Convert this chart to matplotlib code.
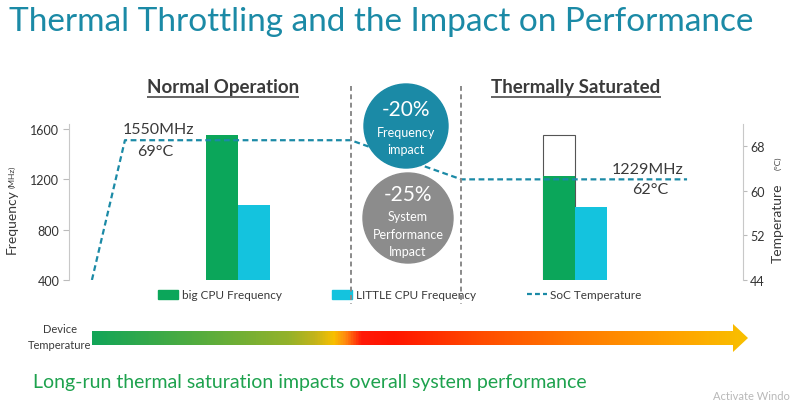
# Thermal throttling chart: frequency bars + SoC temperature line
import numpy as np
import matplotlib.pyplot as plt
from matplotlib.colors import LinearSegmentedColormap
from matplotlib.patches import Circle, Polygon, Patch
from matplotlib.lines import Line2D

plt.rcParams['font.family'] = ['Lato', 'DejaVu Sans']

# data
phases = ["Normal Operation", "Thermally Saturated"]
big_freq = [1550, 1229]        # big CPU frequency (MHz)
little_freq = [1000, 980]      # LITTLE CPU frequency (MHz)
big_ref = 1550                 # outline: unthrottled big CPU level
soc_time = [3.4, 8.3, 41.8, 58.2, 91.7]
soc_temp = [44, 69, 69, 62, 62]
freq_ticks = [400, 800, 1200, 1600]
temp_ticks = [44, 52, 60, 68]
freq_impact = "-20%"
perf_impact = "-25%"

teal = '#1b8aa6'
green = '#0ba65a'
cyan = '#14c3de'
gray_txt = '#3a3a3a'

fig = plt.figure(figsize=(8, 4.06), dpi=100)
fig.patch.set_facecolor('white')

# main axes (pixel layout: x 69..743, y 125..281)
ax = fig.add_axes([69 / 800, 1 - 281 / 406, 674 / 800, 156 / 406])
ax.set_xlim(0, 100)
ax.set_ylim(400, 1640)
ax.patch.set_visible(False)

centers = [25.07, 75.07]
w = 4.75
ax.bar(centers[1] - w / 2, big_ref, width=w, fill=False, edgecolor='#555555', linewidth=0.8, zorder=1)
ax.bar([c - w / 2 for c in centers], big_freq, width=w, color=green, zorder=2)
ax.bar([c + w / 2 for c in centers], little_freq, width=w, color=cyan, zorder=2)

ax.set_xticks([])
ax.set_yticks(freq_ticks)
ax.tick_params(axis='y', length=4, width=0.8, color='#bbbbbb', labelsize=9, labelcolor='#333333', pad=3)
for s in ['top', 'bottom', 'right']:
    ax.spines[s].set_visible(False)
ax.spines['left'].set_color('#c8c8c8')

ax2 = ax.twinx()
ax2.set_ylim(44, 71.9)
ax2.plot(soc_time, soc_temp, color=teal, linewidth=1.6, dashes=(2.6, 1.6), zorder=3)
ax2.set_yticks(temp_ticks)
ax2.tick_params(axis='y', length=3, width=0.8, color='#bbbbbb', labelsize=9, labelcolor='#333333', pad=2)
for s in ['top', 'bottom', 'left']:
    ax2.spines[s].set_visible(False)
ax2.spines['right'].set_color('#c8c8c8')

# overlay in pixel coordinates
ov = fig.add_axes([0, 0, 1, 1], zorder=10)
ov.set_xlim(0, 800)
ov.set_ylim(406, 0)
ov.axis('off')
ov.patch.set_visible(False)

ov.text(9, 22, "Thermal Throttling and the Impact on Performance", fontsize=24,
        color=teal, va='center', ha='left')

# section headers with underline
fig.canvas.draw()
r = fig.canvas.get_renderer()
inv = ov.transData.inverted()
for name, cx in zip(phases, [223, 576]):
    t = ov.text(cx, 87, name, fontsize=13.5, fontweight='bold', color=gray_txt, ha='center', va='center')
    bb = t.get_window_extent(renderer=r)
    (x0, _), (x1, _) = inv.transform([[bb.x0, bb.y0], [bb.x1, bb.y0]])
    ov.plot([x0, x1], [98, 98], color=gray_txt, lw=1.1, solid_capstyle='butt')

# dividers
for x in [351, 461]:
    ov.plot([x, x], [87, 305], color='#8a8a8a', lw=1.4, dashes=(2.5, 1.8))

# impact circles
ov.add_patch(Circle((406, 127), 42, color=teal, zorder=5))
ov.add_patch(Circle((408, 219), 45, color='#8c8c8c', zorder=5))
ov.text(406, 110, freq_impact, fontsize=15, color='white', ha='center', va='center', zorder=6)
ov.text(406, 133, "Frequency", fontsize=9, color='white', ha='center', va='center', zorder=6)
ov.text(406, 150, "impact", fontsize=9, color='white', ha='center', va='center', zorder=6)
ov.text(408, 195, perf_impact, fontsize=15, color='white', ha='center', va='center', zorder=6)
ov.text(408, 217, "System", fontsize=9, color='white', ha='center', va='center', zorder=6)
ov.text(408, 235, "Performance", fontsize=9, color='white', ha='center', va='center', zorder=6)
ov.text(408, 252, "Impact", fontsize=9, color='white', ha='center', va='center', zorder=6)

# value labels
ov.text(123, 130, f"{big_freq[0]}MHz", fontsize=11.5, color=gray_txt, va='center')
ov.text(137, 152, f"{soc_temp[1]}°C", fontsize=11.5, color=gray_txt, va='center')
ov.text(612, 170, f"{big_freq[1]}MHz", fontsize=11.5, color=gray_txt, va='center')
ov.text(632, 190, f"{soc_temp[-1]}°C", fontsize=11.5, color=gray_txt, va='center')

# axis titles
ov.text(12, 222, "Frequency", fontsize=10, rotation=90, color=gray_txt, ha='center', va='center')
ov.text(12, 177, "(MHz)", fontsize=6, rotation=90, color=gray_txt, ha='center', va='center')
ov.text(778, 223, "Temperature", fontsize=10, rotation=90, color=gray_txt, ha='center', va='center')
ov.text(778, 163, "(°C)", fontsize=6, rotation=90, color=gray_txt, ha='center', va='center')

# legend
handles = [Patch(color=green), Patch(color=cyan),
           Line2D([], [], color=teal, lw=1.6, dashes=(2.2, 1.4))]
labels = ["big CPU Frequency", "LITTLE CPU Frequency", "SoC Temperature"]
fig.legend(handles, labels, ncol=3, loc='center left', bbox_to_anchor=(158 / 800, 1 - 296 / 406),
           frameon=False, fontsize=8.5, handlelength=1.7, handleheight=0.7, handletextpad=0.3,
           columnspacing=4.3, borderpad=0, borderaxespad=0, labelcolor=gray_txt)

# device temperature gradient arrow
stops = [(0.0, '#12a558'), (0.15, '#4fac40'), (0.30, '#94b22a'), (0.34, '#c4b41a'),
         (0.368, '#f8c000'), (0.386, '#ff8a10'), (0.41, '#ff1a08'), (0.46, '#ff1500'),
         (0.59, '#ff4a00'), (0.74, '#ff7a00'), (0.90, '#ffa500'), (1.0, '#f8c000')]
cmap = LinearSegmentedColormap.from_list('heat', stops)
arrow = Polygon([(92, 332), (733, 332), (733, 325), (748, 339), (733, 353), (733, 346), (92, 346)],
                closed=True, facecolor='none', edgecolor='none')
ov.add_patch(arrow)
im = ov.imshow(np.linspace(0, 1, 512)[None, :], cmap=cmap, aspect='auto',
               extent=[92, 748, 353, 325], interpolation='bilinear')
im.set_clip_path(arrow)
ov.set_xlim(0, 800)
ov.set_ylim(406, 0)

ov.text(60, 330, "Device", fontsize=8, color=gray_txt, ha='center', va='center')
ov.text(60, 346, "Temperature", fontsize=8, color=gray_txt, ha='center', va='center')

ov.text(33, 383, "Long-run thermal saturation impacts overall system performance", fontsize=14,
        color='#1ea24e', va='center')
ov.text(713, 397, "Activate Windo", fontsize=8, color='#b8b8b8', va='center')

fig.savefig('out.png', dpi=100)
